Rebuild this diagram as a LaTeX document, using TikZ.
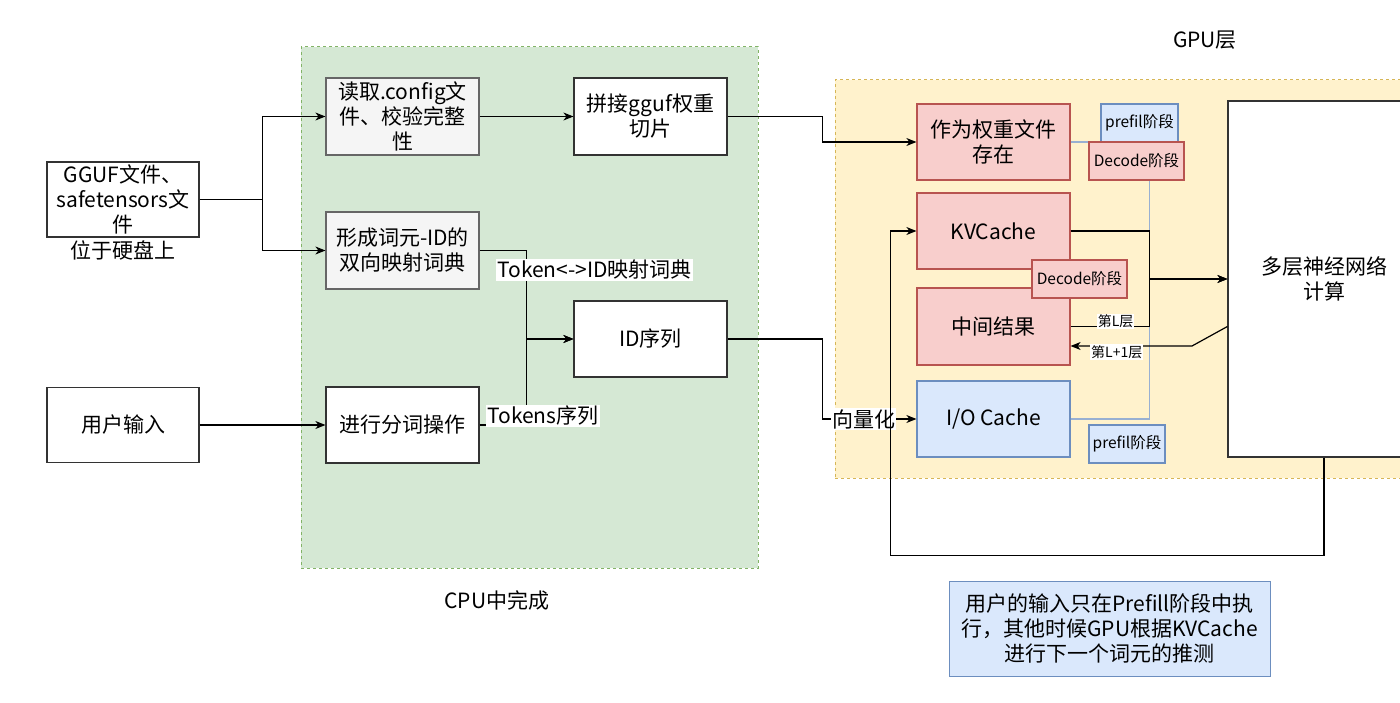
\documentclass[tikz,border=0pt]{standalone}
\usepackage{fontspec}
\setmainfont{Noto Sans CJK SC}
\usetikzlibrary{arrows.meta,calc}
\definecolor{grnF}{HTML}{D5E8D4}
\definecolor{grnD}{HTML}{82B366}
\definecolor{ylwF}{HTML}{FFF2CC}
\definecolor{ylwD}{HTML}{D6B656}
\definecolor{gryF}{HTML}{F5F5F5}
\definecolor{gryD}{HTML}{666666}
\definecolor{redF}{HTML}{F8CECC}
\definecolor{redD}{HTML}{B85450}
\definecolor{bluF}{HTML}{DAE8FC}
\definecolor{bluD}{HTML}{6C8EBF}
\definecolor{dark}{HTML}{333333}
\pgfdeclarelayer{bg}
\pgfdeclarelayer{mid}
\pgfsetlayers{bg,mid,main}
\tikzset{
  container/.style={draw, line width=1pt, dash pattern=on 3pt off 3pt, inner sep=0pt},
  box/.style={draw=dark, line width=1.2pt, fill=white, align=center, inner sep=1pt,
    font=\fontsize{21}{25}\selectfont},
  graybox/.style={box, draw=gryD, fill=gryF},
  redbox/.style={box, draw=redD, fill=redF},
  bluebox/.style={box, draw=bluD, fill=bluF},
  stagered/.style={redbox, font=\fontsize{15.5}{17}\selectfont, minimum width=95pt, minimum height=38pt},
  stageblue/.style={bluebox, font=\fontsize{15.5}{17}\selectfont, minimum height=38pt},
  arr/.style={line width=1.2pt, draw=black, -{Stealth[length=10pt,width=8pt,inset=3pt]}},
  lbl/.style={fill=white, inner sep=1pt, font=\fontsize{21}{23}\selectfont},
  slbl/.style={fill=white, inner sep=1pt, font=\fontsize{14}{15}\selectfont},
  title/.style={font=\fontsize{21}{23}\selectfont},
  blueline/.style={line width=1.2pt, draw=bluD!70},
}
\begin{document}
\begin{tikzpicture}[x=1pt,y=-1pt]
\clip (0,0) rectangle (1400,703);
\begin{pgfonlayer}{bg}
\fill[white] (0,0) rectangle (1400,703);
\node[container, draw=grnD, fill=grnF, minimum width=457pt, minimum height=521pt] (cpu) at (529.5,307.5) {};
\node[container, draw=ylwD, fill=ylwF, minimum width=585pt, minimum height=398pt] (gpu) at (1127.5,279) {};
\end{pgfonlayer}

\node[title] (cputitle) at (497,600) {CPU中完成};
\node[title] (gputitle) at (1205,40) {GPU层};

% left column
\node[box, minimum width=152pt, minimum height=75pt] (gguf) at (123,199.5) {GGUF文件、\\safetensors文\\件};
\node[font=\fontsize{21}{23}\selectfont] (disk) at (123,250) {位于硬盘上};
\node[box, minimum width=152pt, minimum height=75pt] (user) at (123,425) {用户输入};

% CPU column
\node[graybox, minimum width=153pt, minimum height=77pt] (read) at (402.5,116.5) {读取.config文\\件、校验完整\\性};
\node[graybox, minimum width=153pt, minimum height=77pt] (form) at (402.5,250.5) {形成词元-ID的\\双向映射词典};
\node[box, minimum width=153pt, minimum height=76pt] (tok) at (402.5,425) {进行分词操作};
\node[box, minimum width=153pt, minimum height=77pt] (splice) at (650.5,116.5) {拼接gguf权重\\切片};
\node[box, minimum width=153pt, minimum height=76pt] (idseq) at (650.5,339) {ID序列};

% GPU column
\node[redbox, minimum width=153pt, minimum height=76pt] (weight) at (993.5,142) {作为权重文件\\存在};
\node[redbox, minimum width=153pt, minimum height=76pt] (kv) at (993.5,231) {KVCache};
\node[redbox, minimum width=153pt, minimum height=77pt] (midres) at (993.5,326.5) {中间结果};
\node[bluebox, minimum width=153pt, minimum height=76pt] (io) at (993.5,419) {I/O Cache};
\node[stageblue, minimum width=77pt] (pre1) at (1139.5,123) {prefil阶段};
\node[stagered] (dec1) at (1136.5,161) {Decode阶段};
\node[stagered] (dec2) at (1079.5,279) {Decode阶段};
\node[stageblue, minimum width=76pt] (pre2) at (1127,444) {prefil阶段};
\node[box, minimum width=192pt, minimum height=356pt] (nn) at (1324,279) {多层神经网络\\计算};

\node[bluebox, line width=1pt, minimum width=321pt, minimum height=95pt] (note) at (1109.5,628.5)
  {用户的输入只在Prefill阶段中执\\行，其他时候GPU根据KVCache\\进行下一个词元的推测};

% blue stage line (behind boxes)
\begin{pgfonlayer}{mid}
\draw[blueline] (io.east) -- ++(79,0) |- (weight.east);
\end{pgfonlayer}

% connectors
\draw[arr] (gguf.east) -- ++(63,0) |- (read.west);
\draw[arr] (gguf.east) -- ++(63,0) |- (form.west);
\draw[arr] (read) -- (splice);
\draw[arr] (splice.east) -- ++(95,0) |- (weight.west);
\draw[arr] (form.east) -- ++(47,0) |- node[lbl, pos=0.11, xshift=68pt] (l1) {Token<->ID映射词典} (idseq.west);
\draw[arr] (tok.east) -- ++(47,0) |- (idseq.west);
\node[lbl] (l2) at (543,416) {Tokens序列};
\draw[arr] (user) -- (tok);
\draw[arr] (idseq.east) -- ++(95,0) |- node[lbl, pos=0.72] (l3) {向量化} (io.west);
\draw[arr] (kv.east) -- ++(79,0) |- (nn.west);
\draw[arr] (midres.east) -- node[slbl, pos=0.57, yshift=5pt] (l4) {第L层} ++(79,0) |- (nn.west);
\draw[arr] (nn.west |- midres.east) -- (1192,346) -- node[slbl, pos=0.62, yshift=-6pt] (l5) {第L+1层} ($(midres.east)+(0,19.5)$);
\draw[arr] (nn.south) -- ++(0,98) -| ($(kv.west)+(-26,0)$) -- (kv.west);
\end{tikzpicture}
\end{document}
